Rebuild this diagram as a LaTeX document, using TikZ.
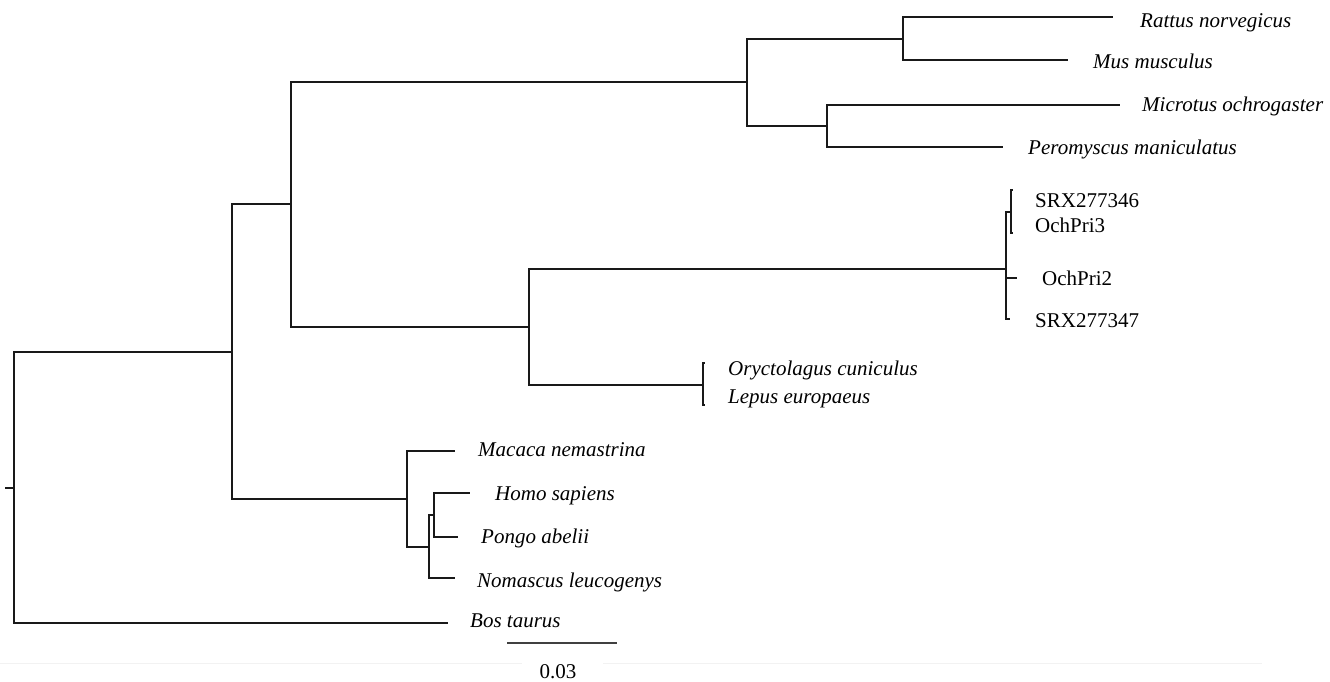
\documentclass[tikz,border=0pt]{standalone}
\usepackage{fontspec}
\setmainfont{Liberation Serif}

\begin{document}
\begin{tikzpicture}[x=1pt,y=-1pt,
  branch/.style={line width=2.4pt,black!90},
  taxon/.style={anchor=base west,inner sep=0pt,font=\fontsize{21}{24}\selectfont\itshape},
  isolate/.style={anchor=base west,inner sep=0pt,font=\fontsize{21}{24}\selectfont}]
  \useasboundingbox (0,0) rectangle (1330,681);
  % internal nodes
  \coordinate (stem) at (5,488);
  \coordinate (root) at (14,488);
  \coordinate (euarch) at (232,352);
  \coordinate (glires) at (291,204);
  \coordinate (rodent) at (747,82);
  \coordinate (murid) at (903,39);
  \coordinate (cricet) at (827,126);
  \coordinate (lago) at (529,327);
  \coordinate (ochot) at (1006,269);
  \coordinate (ochsub) at (1011,212);
  \coordinate (lepor) at (703,385);
  \coordinate (primate) at (407,499);
  \coordinate (hominoid) at (429,547);
  \coordinate (hominid) at (434,515);
  % tips
  \coordinate (rat) at (1113,17);
  \coordinate (mouse) at (1068,60);
  \coordinate (vole) at (1120,105);
  \coordinate (deermouse) at (1003,147);
  \coordinate (srxA) at (1013,190);
  \coordinate (ochC) at (1013,233);
  \coordinate (ochB) at (1017,278);
  \coordinate (srxB) at (1010,319);
  \coordinate (rabbit) at (705,363);
  \coordinate (hare) at (705,405);
  \coordinate (macaque) at (455,451);
  \coordinate (human) at (470,493);
  \coordinate (orang) at (458,537);
  \coordinate (gibbon) at (455,578);
  \coordinate (cow) at (448,623);

  \draw[branch] (stem) -- (root);
  \draw[branch] (root) |- (euarch);
  \draw[branch] (root) |- (cow);
  \draw[branch] (euarch) |- (glires);
  \draw[branch] (euarch) |- (primate);
  \draw[branch] (glires) |- (rodent);
  \draw[branch] (glires) |- (lago);
  \draw[branch] (rodent) |- (murid);
  \draw[branch] (rodent) |- (cricet);
  \draw[branch] (murid) |- (rat);
  \draw[branch] (murid) |- (mouse);
  \draw[branch] (cricet) |- (vole);
  \draw[branch] (cricet) |- (deermouse);
  \draw[branch] (lago) |- (ochot);
  \draw[branch] (lago) |- (lepor);
  \draw[branch] (ochot) |- (ochsub);
  \draw[branch] (ochot) |- (ochB);
  \draw[branch] (ochot) |- (srxB);
  \draw[branch] (ochsub) |- (srxA);
  \draw[branch] (ochsub) |- (ochC);
  \draw[branch] (lepor) |- (rabbit);
  \draw[branch] (lepor) |- (hare);
  \draw[branch] (primate) |- (macaque);
  \draw[branch] (primate) |- (hominoid);
  \draw[branch] (hominoid) |- (hominid);
  \draw[branch] (hominoid) |- (gibbon);
  \draw[branch] (hominid) |- (human);
  \draw[branch] (hominid) |- (orang);

  \node[taxon] (ratlbl) at (1140,27) {Rattus norvegicus};
  \node[taxon] (mouselbl) at (1093,68) {Mus musculus};
  \node[taxon] (volelbl) at (1142,111) {Microtus ochrogaster};
  \node[taxon] (deermouselbl) at (1028,154) {Peromyscus maniculatus};
  \node[isolate] (srxAlbl) at (1035,207) {SRX277346};
  \node[isolate] (ochClbl) at (1035,232) {OchPri3};
  \node[isolate] (ochBlbl) at (1042,285) {OchPri2};
  \node[isolate] (srxBlbl) at (1035,327) {SRX277347};
  \node[taxon] (rabbitlbl) at (728,375) {Oryctolagus cuniculus};
  \node[taxon] (harelbl) at (728,403) {Lepus europaeus};
  \node[taxon] (macaquelbl) at (478,456) {Macaca nemastrina};
  \node[taxon] (humanlbl) at (495,500) {Homo sapiens};
  \node[taxon] (oranglbl) at (481,543) {Pongo abelii};
  \node[taxon] (gibbonlbl) at (477,587) {Nomascus leucogenys};
  \node[taxon] (cowlbl) at (470,627) {Bos taurus};

  % scale bar
  \coordinate (barL) at (507,643);
  \coordinate (barR) at (617,643);
  \draw[line width=1.8pt,black!75] (barL) -- (barR);
  \node[isolate,anchor=base] (barlbl) at (558,678) {0.03};
  \draw[line width=1pt,black!5] (0,663) -- (522,663) (603,663) -- (1262,663);
\end{tikzpicture}
\end{document}
